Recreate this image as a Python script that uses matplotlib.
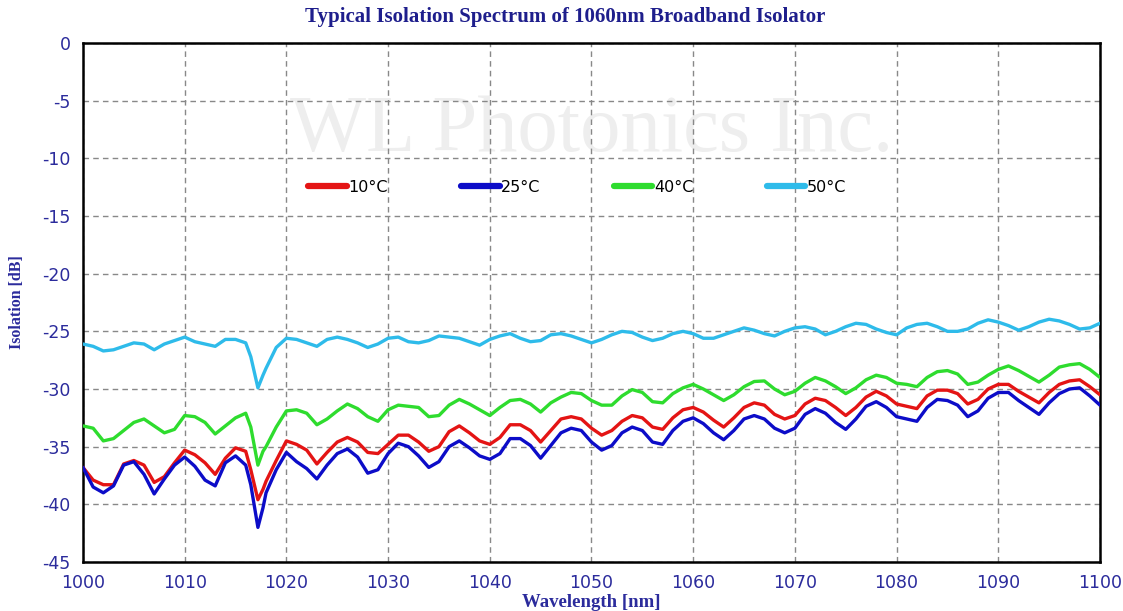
import numpy as np
import matplotlib
matplotlib.use("Agg")
import matplotlib.pyplot as plt

# ---- data ----
wavelength = np.concatenate([np.arange(1000, 1017), [1016.5, 1017.2, 1017.7], np.arange(1018, 1101)])

iso_50C = [-26.1, -26.3, -26.7, -26.6, -26.3, -26.0, -26.1, -26.6, -26.1, -25.8,
           -25.5, -25.9, -26.1, -26.3, -25.7, -25.7, -26.0,
           -27.2, -29.9, -28.8,
           -28.2, -26.4, -25.6, -25.7, -26.0, -26.3, -25.7, -25.5, -25.7, -26.0,
           -26.4, -26.1, -25.6, -25.5, -25.9, -26.0, -25.8, -25.4, -25.5, -25.6,
           -25.9, -26.2, -25.7, -25.4, -25.2, -25.6, -25.9, -25.8, -25.3, -25.2,
           -25.4, -25.7, -26.0, -25.7, -25.3, -25.0, -25.1, -25.5, -25.8, -25.6,
           -25.2, -25.0, -25.2, -25.6, -25.6, -25.3, -25.0, -24.7, -24.9, -25.2,
           -25.4, -25.0, -24.7, -24.6, -24.8, -25.3, -25.0, -24.6, -24.3, -24.4,
           -24.8, -25.1, -25.3, -24.7, -24.4, -24.3, -24.6, -25.0, -25.0, -24.8,
           -24.3, -24.0, -24.2, -24.5, -24.9, -24.6, -24.2, -23.95, -24.1, -24.4,
           -24.8, -24.7, -24.3]

iso_40C = [-33.2, -33.4, -34.5, -34.3, -33.6, -32.9, -32.6, -33.2, -33.8, -33.5,
           -32.3, -32.4, -32.9, -33.9, -33.2, -32.5, -32.1,
           -33.3, -36.6, -35.4,
           -35.0, -33.3, -31.9, -31.8, -32.1, -33.1, -32.6, -31.9, -31.3, -31.7,
           -32.4, -32.8, -31.8, -31.4, -31.5, -31.6, -32.4, -32.3, -31.4, -30.9,
           -31.3, -31.8, -32.3, -31.6, -31.0, -30.9, -31.3, -32.0, -31.2, -30.7,
           -30.3, -30.4, -31.0, -31.4, -31.4, -30.6, -30.05, -30.3, -31.1, -31.2,
           -30.4, -29.9, -29.6, -30.0, -30.5, -31.0, -30.5, -29.8, -29.35, -29.3,
           -30.0, -30.5, -30.2, -29.5, -29.0, -29.3, -29.8, -30.4, -29.9, -29.2,
           -28.8, -29.0, -29.5, -29.6, -29.8, -29.0, -28.5, -28.4, -28.7, -29.6,
           -29.4, -28.8, -28.3, -28.0, -28.4, -28.9, -29.4, -28.8, -28.1, -27.9,
           -27.8, -28.3, -29.0]

iso_10C = [-36.8, -37.9, -38.3, -38.3, -36.5, -36.2, -36.6, -38.1, -37.6, -36.4,
           -35.3, -35.7, -36.4, -37.4, -36.0, -35.1, -35.4,
           -37.0, -39.6, -38.7,
           -38.0, -36.2, -34.5, -34.8, -35.3, -36.5, -35.5, -34.6, -34.2, -34.6,
           -35.5, -35.6, -34.8, -34.0, -34.0, -34.6, -35.4, -35.0, -33.7, -33.2,
           -33.8, -34.5, -34.8, -34.2, -33.1, -33.1, -33.6, -34.6, -33.6, -32.6,
           -32.4, -32.6, -33.4, -34.0, -33.6, -32.8, -32.3, -32.5, -33.3, -33.5,
           -32.5, -31.8, -31.6, -32.0, -32.7, -33.3, -32.5, -31.6, -31.2, -31.4,
           -32.2, -32.6, -32.3, -31.3, -30.8, -31.0, -31.6, -32.3, -31.6, -30.7,
           -30.2, -30.6, -31.3, -31.5, -31.7, -30.6, -30.1, -30.1, -30.4, -31.3,
           -30.9, -30.0, -29.6, -29.6, -30.2, -30.7, -31.2, -30.3, -29.6, -29.3,
           -29.2, -29.8, -30.5]

iso_25C = [-36.8, -38.5, -39.0, -38.4, -36.6, -36.3, -37.4, -39.1, -37.8, -36.6,
           -35.9, -36.7, -37.9, -38.4, -36.4, -35.8, -36.6,
           -38.3, -42.0, -40.3,
           -39.0, -37.0, -35.5, -36.3, -36.9, -37.8, -36.6, -35.6, -35.2, -35.9,
           -37.3, -37.0, -35.6, -34.7, -35.0, -35.8, -36.8, -36.3, -35.0, -34.5,
           -35.1, -35.8, -36.1, -35.6, -34.3, -34.3, -34.9, -36.0, -34.9, -33.8,
           -33.4, -33.6, -34.6, -35.3, -34.9, -33.8, -33.3, -33.6, -34.6, -34.8,
           -33.6, -32.8, -32.5, -33.0, -33.8, -34.4, -33.6, -32.6, -32.3, -32.6,
           -33.4, -33.8, -33.4, -32.2, -31.7, -32.1, -32.9, -33.5, -32.6, -31.5,
           -31.1, -31.6, -32.4, -32.6, -32.8, -31.6, -30.9, -31.0, -31.4, -32.4,
           -31.9, -30.8, -30.3, -30.3, -31.0, -31.6, -32.2, -31.2, -30.4, -30.0,
           -29.9, -30.6, -31.4]

series_labels = ["10°C", "25°C", "40°C", "50°C"]
series_colors = ["#e41414", "#0c0cc8", "#2edc2e", "#2ebbea"]
x_ticks = list(range(1000, 1101, 10))
y_ticks = list(range(-45, 1, 5))

# ---- figure ----
fig = plt.figure(figsize=(11.23, 6.11), dpi=100)
ax = fig.add_axes([0.0739, 0.0802, 0.9056, 0.8494])

# faint watermark
ax.text(0.5, 0.83, "WL Photonics Inc.", transform=ax.transAxes, ha="center", va="center",
        fontsize=58, family="Liberation Serif", color="#eeeeee", zorder=0)

for vals, lab, col in zip([iso_10C, iso_25C, iso_40C, iso_50C], series_labels, series_colors):
    ax.plot(wavelength, vals, color=col, lw=2.4, label=lab, zorder=3,
            solid_joinstyle="round", solid_capstyle="round")

ax.set_xlim(1000, 1100)
ax.set_ylim(-45, 0)
ax.set_xticks(x_ticks)
ax.set_yticks(y_ticks)
ax.set_yticklabels([str(v) for v in y_ticks])
ax.grid(True, color="#888888", linestyle=(0, (4, 3)), linewidth=1.0)
ax.set_axisbelow(True)
ax.tick_params(length=0, pad=9, labelsize=12.5, labelcolor="#2b2b9c")
for s in ax.spines.values():
    s.set_linewidth(1.8)
    s.set_color("black")

ax.set_xlabel("Wavelength [nm]", family="Liberation Serif", fontweight="bold",
              fontsize=13.5, color="#2b2b9c", labelpad=1)
ax.set_ylabel("Isolation [dB]", family="Liberation Serif", fontweight="bold",
              fontsize=11.5, color="#2b2b9c", labelpad=12)
fig.text(0.503, 0.972, "Typical Isolation Spectrum of 1060nm Broadband Isolator",
         ha="center", va="center", family="Liberation Serif", fontweight="bold",
         fontsize=15, color="#1e1e8c")

leg = ax.legend(ncol=4, frameon=False, loc="center", bbox_to_anchor=(0.486, 0.722),
                handlelength=2.4, handletextpad=0.1, columnspacing=4.6,
                prop={"family": "DejaVu Sans", "size": 11.5})
for ln in leg.get_lines():
    ln.set_linewidth(4.5)
    ln.set_solid_capstyle("round")

fig.savefig("out.png", dpi=100)
